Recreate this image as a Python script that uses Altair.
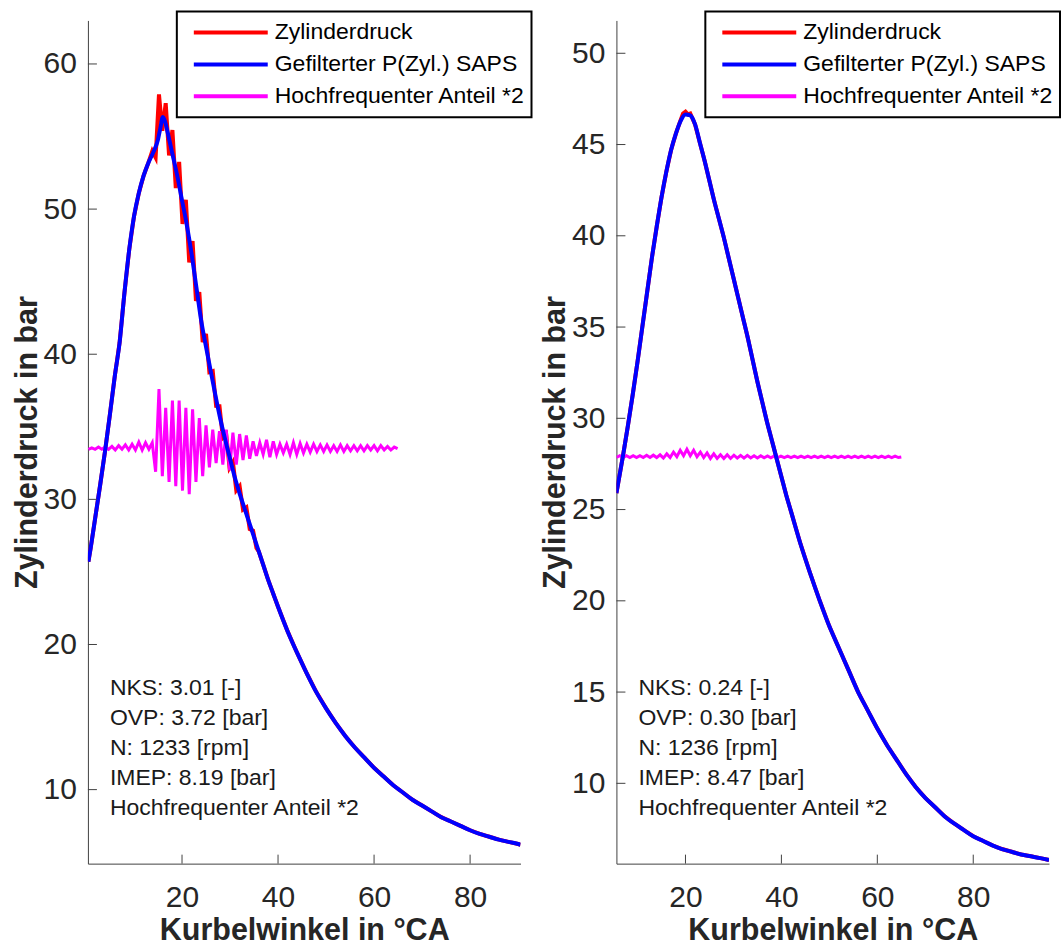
import altair as alt
import pandas as pd

FONT = "Liberation Sans"
TXT = "#262626"
AXC = "#404040"

SERIES = ["Zylinderdruck", "Gefilterter P(Zyl.) SAPS", "Hochfrequenter Anteil *2"]
COLORS = ["#FF0000", "#0000FF", "#FF00FF"]
XTICKS = [20, 40, 60, 80]

# ---------------- left panel ----------------
L_xdom = [0.4, 90.5]
L_ydom = [4.9, 63.0]
L_yticks = [10, 20, 30, 40, 50, 60]

L_blue_x = [0.5, 1, 2, 3, 4, 5, 6, 7, 8, 9, 10, 11, 12, 13, 14, 15, 15.5, 16, 16.5, 17, 18, 19, 20,
            21, 22, 23, 24, 25, 26, 27, 28, 29, 30, 31, 32, 33, 34, 35, 36, 37, 38, 39, 40, 42, 44,
            46, 48, 50, 52, 54, 56, 58, 60, 62, 64, 66, 68, 70, 72, 74, 76, 78, 80, 82, 84, 86, 88,
            90, 90.5]
L_blue_y = [25.7, 26.7, 28.9, 31.1, 33.4, 35.9, 38.5, 40.8, 44.2, 47.2, 49.5, 51.1, 52.3, 53.2,
            53.9, 54.8, 55.6, 56.35, 56.0, 55.3, 53.8, 52.3, 50.6, 48.9, 46.9, 44.6, 42.3, 40.5,
            38.8, 37.1, 35.5, 34.1, 32.8, 31.5, 30.4, 29.4, 28.4, 27.4, 26.4, 25.4, 24.4, 23.5,
            22.6, 20.9, 19.4, 18.0, 16.7, 15.6, 14.6, 13.7, 12.9, 12.2, 11.5, 10.9, 10.3, 9.8, 9.3,
            8.9, 8.5, 8.1, 7.8, 7.5, 7.2, 6.95, 6.75, 6.55, 6.4, 6.25, 6.2]

L_red_x = [0.5, 1, 2, 3, 4, 5, 6, 7, 8, 9, 10, 11, 12, 13,
           13.8, 14.5, 15.2, 15.9, 16.6, 17.3, 18.0, 18.7, 19.4, 20.1, 20.8, 21.5, 22.2, 22.9,
           23.6, 24.3, 25.0, 25.7, 26.4, 27.1, 27.8, 28.5, 29.2, 29.9, 30.6, 31.3, 32.0, 32.7,
           33.4, 34.1, 34.8, 35.5,
           36, 37, 38, 39, 40, 42, 44, 46, 48, 50, 52, 54, 56, 58, 60, 62, 64, 66, 68, 70, 72,
           74, 76, 78, 80, 82, 84, 86, 88, 90, 90.5]
L_red_y = [25.7, 26.7, 28.9, 31.1, 33.4, 35.9, 38.5, 40.8, 44.2, 47.2, 49.5, 51.1, 52.3, 53.2,
           54.0, 53.55, 57.9, 55.4, 57.3, 53.7, 55.45, 51.45, 53.25, 48.98, 50.64, 46.32, 47.79,
           43.68, 44.27, 40.84, 41.4, 38.76, 38.83, 36.44, 36.42, 34.25, 34.49, 32.18, 32.57,
           30.62, 30.9, 29.3, 29.45, 27.95, 27.85, 26.65,
           26.4, 25.4, 24.4, 23.5, 22.6, 20.9, 19.4, 18.0, 16.7, 15.6, 14.6, 13.7, 12.9, 12.2,
           11.5, 10.9, 10.3, 9.8, 9.3, 8.9, 8.5, 8.1, 7.8, 7.5, 7.2, 6.95, 6.75, 6.55, 6.4, 6.25,
           6.2]

L_hf_x = [0.5, 1.2, 1.9, 2.6, 3.3, 4.0, 4.7, 5.4, 6.1, 6.8, 7.5, 8.2, 8.9, 9.6, 10.3, 11.0,
          11.7, 12.4, 13.1, 13.8, 14.5, 15.2, 15.9, 16.6, 17.3, 18.0, 18.7, 19.4, 20.1, 20.8,
          21.5, 22.2, 22.9, 23.6, 24.3, 25.0, 25.7, 26.4, 27.1, 27.8, 28.5, 29.2, 29.9, 30.6,
          31.3, 32.0, 32.7, 33.4, 34.1, 34.8, 35.5, 36.2, 36.9, 37.6, 38.3, 39.0, 39.7, 40.4,
          41.1, 41.8, 42.5, 43.2, 43.9, 44.6, 45.3, 46.0, 46.7, 47.4, 48.1, 48.8, 49.5, 50.2,
          50.9, 51.6, 52.3, 53.0, 53.7, 54.4, 55.1, 55.8, 56.5, 57.2, 57.9, 58.6, 59.3, 60.0,
          60.7, 61.4, 62.1, 62.8, 63.5, 64.2, 64.9]
L_hf_y = [33.45, 33.55, 33.45, 33.6, 33.45, 33.6, 33.45, 33.65, 33.4, 33.7,
          33.45, 33.75, 33.4, 33.8, 33.4, 33.95, 33.4, 33.9, 33.45, 33.9,
          31.9, 37.6, 31.6, 36.3, 31.2, 36.8, 30.9, 36.8, 30.6, 36.3,
          30.35, 36.2, 31.2, 35.6, 31.6, 35.1, 32.2, 34.8, 32.5, 34.7,
          32.4, 34.8, 32.0, 34.6, 32.4, 34.5, 32.7, 34.4, 32.8, 34.0,
          33.0, 33.9, 33.1, 34.1, 32.9, 34.0, 33.1, 33.8, 33.2, 33.8,
          33.1, 33.9, 33.1, 33.85, 33.2, 33.8, 33.25, 33.8, 33.3, 33.75,
          33.3, 33.75, 33.3, 33.7, 33.3, 33.75, 33.3, 33.7, 33.35, 33.7,
          33.35, 33.7, 33.35, 33.7, 33.4, 33.7, 33.35, 33.7, 33.4, 33.65,
          33.4, 33.6, 33.5]

L_info = ["NKS: 3.01 [-]", "OVP: 3.72 [bar]", "N: 1233 [rpm]", "IMEP: 8.19 [bar]",
          "Hochfrequenter Anteil *2"]

# ---------------- right panel ----------------
R_xdom = [5.6, 95.8]
R_ydom = [5.6, 51.8]
R_yticks = [10, 15, 20, 25, 30, 35, 40, 45, 50]

R_blue_x = [5.6, 6, 7, 8, 9, 10, 11, 12, 13, 14, 15, 16, 17, 18, 19, 20, 21, 22, 23, 24, 25, 26,
            27, 28, 29, 30, 31, 32, 33, 34, 35, 36, 37, 38, 39, 40, 41, 42, 44, 46, 48, 50, 52,
            54, 56, 58, 60, 62, 64, 66, 68, 70, 72, 74, 76, 78, 80, 82, 84, 86, 88, 90, 92, 94,
            95.8]
R_blue_y = [25.9, 26.5, 28.0, 29.6, 31.3, 33.1, 35.0, 36.9, 38.8, 40.5, 42.1, 43.5, 44.7, 45.6,
            46.3, 46.65, 46.6, 46.1, 45.1, 44.1, 43.0, 41.9, 40.9, 39.9, 38.8, 37.7, 36.6, 35.5,
            34.4, 33.2, 32.0, 30.9, 29.8, 28.8, 27.8, 26.8, 25.8, 24.9, 23.1, 21.5, 20.0, 18.6,
            17.4, 16.2, 15.0, 14.0, 13.0, 12.1, 11.3, 10.5, 9.8, 9.2, 8.7, 8.2, 7.8, 7.45, 7.1,
            6.85, 6.6, 6.4, 6.25, 6.1, 6.0, 5.9, 5.8]

R_red_x = [5.6, 6, 7, 8, 9, 10, 11, 12, 13, 14, 15, 16, 17, 18, 19, 19.5, 20, 20.5, 21, 22, 23,
           24, 25, 26, 27, 28, 29, 30, 31, 32, 33, 34, 35, 36, 37, 38, 39, 40, 41, 42, 44, 46,
           48, 50, 52, 54, 56, 58, 60, 62, 64, 66, 68, 70, 72, 74, 76, 78, 80, 82, 84, 86, 88,
           90, 92, 94, 95.8]
R_red_y = [25.9, 26.5, 28.0, 29.6, 31.3, 33.1, 35.0, 36.9, 38.8, 40.5, 42.1, 43.5, 44.7, 45.6,
           46.35, 46.7, 46.8, 46.65, 46.7, 46.1, 45.1, 44.1, 43.0, 41.9, 40.9, 39.9, 38.8, 37.7,
           36.6, 35.5, 34.4, 33.2, 32.0, 30.9, 29.8, 28.8, 27.8, 26.8, 25.8, 24.9, 23.1, 21.5,
           20.0, 18.6, 17.4, 16.2, 15.0, 14.0, 13.0, 12.1, 11.3, 10.5, 9.8, 9.2, 8.7, 8.2, 7.8,
           7.45, 7.1, 6.85, 6.6, 6.4, 6.25, 6.1, 6.0, 5.9, 5.8]

R_hf_x = [5.6, 6.3, 7.0, 7.7, 8.4, 9.1, 9.8, 10.5, 11.2, 11.9, 12.6, 13.3, 14.0, 14.7, 15.4,
          16.1, 16.8, 17.5, 18.2, 18.9, 19.6, 20.3, 21.0, 21.7, 22.4, 23.1, 23.8, 24.5, 25.2,
          25.9, 26.6, 27.3, 28.0, 28.7, 29.4, 30.1, 30.8, 31.5, 32.2, 32.9, 33.6, 34.3, 35.0,
          35.7, 36.4, 37.1, 37.8, 38.5, 39.2, 39.9, 40.6, 41.3, 42.0, 42.7, 43.4, 44.1, 44.8,
          45.5, 46.2, 46.9, 47.6, 48.3, 49.0, 49.7, 50.4, 51.1, 51.8, 52.5, 53.2, 53.9, 54.6,
          55.3, 56.0, 56.7, 57.4, 58.1, 58.8, 59.5, 60.2, 60.9, 61.6, 62.3, 63.0, 63.7, 64.4,
          65.0]
R_hf_y = [27.85, 27.95, 27.85, 27.95, 27.85, 27.95, 27.85, 27.95, 27.85, 27.97,
          27.85, 27.98, 27.85, 28.0, 27.82, 28.05, 27.85, 28.15, 27.9, 28.25,
          27.95, 28.3, 27.95, 28.25, 27.9, 28.15, 27.85, 28.1, 27.8, 28.05,
          27.8, 28.0, 27.8, 28.0, 27.8, 27.98, 27.82, 27.97, 27.82, 27.97,
          27.83, 27.95, 27.83, 27.95, 27.84, 27.94, 27.84, 27.94, 27.85,
          27.93, 27.85, 27.93, 27.85, 27.93, 27.85, 27.93, 27.85, 27.93, 27.85,
          27.93, 27.85, 27.93, 27.85, 27.93, 27.85, 27.93, 27.85, 27.93, 27.85,
          27.93, 27.85, 27.93, 27.85, 27.93, 27.85, 27.93, 27.85, 27.93, 27.85,
          27.93, 27.85, 27.93, 27.85, 27.93, 27.85,
          27.88]

R_info = ["NKS: 0.24 [-]", "OVP: 0.30 [bar]", "N: 1236 [rpm]", "IMEP: 8.47 [bar]",
          "Hochfrequenter Anteil *2"]

W, H = 433, 844


def panel(bx, by, rx, ry, hx, hy, xdom, ydom, yticks, info):
    X = alt.X("x:Q", scale=alt.Scale(domain=xdom, nice=False, zero=False),
              axis=alt.Axis(values=XTICKS, title="Kurbelwinkel in °CA", labelPadding=19,
                            titlePadding=3))
    Y = alt.Y("y:Q", scale=alt.Scale(domain=ydom, nice=False, zero=False),
              axis=alt.Axis(values=yticks, title="Zylinderdruck in bar", labelPadding=11.5,
                            titlePadding=1))
    C = alt.Color("s:N", scale=alt.Scale(domain=SERIES, range=COLORS),
                  legend=alt.Legend(title=None, orient="none", legendX=89, legendY=-9,
                                    symbolType="stroke", symbolSize=5476, symbolStrokeWidth=4,
                                    labelFontSize=23, labelFont=FONT, labelColor="#000000",
                                    labelLimit=500, clipHeight=30, rowPadding=2, padding=6,
                                    symbolOffset=9, labelOffset=5, strokeColor="#000000",
                                    fillColor="#FFFFFF"))
    red = alt.Chart(pd.DataFrame({"x": rx, "y": ry, "s": SERIES[0]})).mark_line(
        strokeWidth=4, clip=True).encode(X, Y, C)
    hf = alt.Chart(pd.DataFrame({"x": hx, "y": hy, "s": SERIES[2]})).mark_line(
        strokeWidth=3, clip=True).encode(X, Y, C)
    blue = alt.Chart(pd.DataFrame({"x": bx, "y": by, "s": SERIES[1]})).mark_line(
        strokeWidth=4, clip=True, interpolate="monotone").encode(X, Y, C)
    xt = alt.Chart(pd.DataFrame({"x": XTICKS})).mark_rule(color=AXC, strokeWidth=1).encode(
        x=X, y=alt.value(H), y2=alt.value(H - 9))
    yt = alt.Chart(pd.DataFrame({"y": yticks})).mark_rule(color=AXC, strokeWidth=1).encode(
        y=Y, x=alt.value(0), x2=alt.value(9))
    txt = alt.Chart(pd.DataFrame({"t": ["\n".join(info)]})).mark_text(
        align="left", baseline="alphabetic", font=FONT, fontSize=23, lineHeight=30,
        lineBreak="\n", color="#1a1a1a").encode(text="t:N", x=alt.value(22), y=alt.value(675))
    return alt.layer(red, hf, blue, xt, yt, txt).properties(width=W, height=H)


left = panel(L_blue_x, L_blue_y, L_red_x, L_red_y, L_hf_x, L_hf_y, L_xdom, L_ydom, L_yticks, L_info)
right = panel(R_blue_x, R_blue_y, R_red_x, R_red_y, R_hf_x, R_hf_y, R_xdom, R_ydom, R_yticks, R_info)

chart = alt.hconcat(left, right, spacing=96, bounds="flush").resolve_scale(
    color="independent").resolve_legend(color="independent").properties(
    padding={"left": 12, "top": 10, "right": 0, "bottom": 0}
).configure_view(stroke=None).configure_axis(
    domainColor=AXC, domainWidth=1, ticks=False, grid=False,
    labelFont=FONT, labelFontSize=30, labelColor=TXT,
    titleFont=FONT, titleFontSize=30.5, titleFontWeight="bold", titleColor=TXT
).configure_legend(strokeWidth=2)

chart.save("out.html", embed_options={"renderer": "svg", "actions": False})
